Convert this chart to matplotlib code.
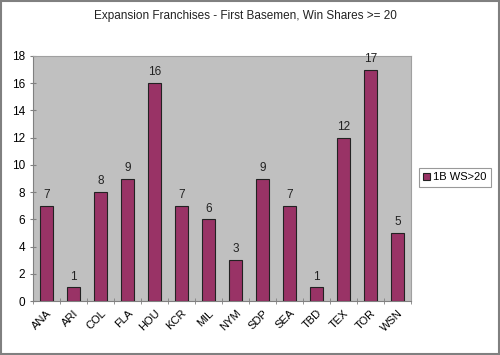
import matplotlib
matplotlib.use("Agg")
import matplotlib.pyplot as plt
from matplotlib.patches import Rectangle

teams = ["ANA", "ARI", "COL", "FLA", "HOU", "KCR", "MIL", "NYM", "SDP", "SEA", "TBD", "TEX", "TOR", "WSN"]
values = [7, 1, 8, 9, 16, 7, 6, 3, 9, 7, 1, 12, 17, 5]
series_name = "1B WS>20"
title = "Expansion Franchises - First Basemen, Win Shares >= 20"

W, H = 500, 355
fig = plt.figure(figsize=(W/100, H/100), dpi=100)
fig.patch.set_facecolor("white")
fig.patches.append(Rectangle((0.002, 0.003), 0.996, 0.994, transform=fig.transFigure,
                             fill=False, edgecolor="#808080", linewidth=1.5))

l, r, t, b = 33, 411, 56, 301
ax = fig.add_axes([l/W, 1 - b/H, (r-l)/W, (b-t)/H])
ax.set_facecolor("#C0C0C0")
x = range(len(teams))
bars = ax.bar(x, values, width=0.45, color="#993366", edgecolor="#222222", linewidth=0.8,
              label=series_name, zorder=3)
for xi, v in zip(x, values):
    ax.text(xi, v + 0.35, str(v), ha="center", va="bottom", fontsize=8.5, color="#222222",
            family="Liberation Sans")
ax.set_xlim(-0.5, len(teams) - 0.5)
ax.set_ylim(0, 18)
ax.set_yticks(range(0, 19, 2))
ax.set_xticks([i - 0.5 for i in range(len(teams) + 1)], minor=True)
ax.set_xticks(list(x))
ax.set_xticklabels(teams, rotation=45, ha="right", rotation_mode="anchor", fontsize=8,
                   family="Liberation Sans")
ax.tick_params(axis="x", which="major", length=0, pad=5)
ax.tick_params(axis="x", which="minor", length=4, color="#808080", direction="inout")
ax.tick_params(axis="y", length=4, color="#808080", direction="inout", labelsize=8.5)
for lab in ax.get_yticklabels():
    lab.set_family("Liberation Sans")
for s in ["top", "right"]:
    ax.spines[s].set_color("#A0A0A0")
for s in ["left", "bottom"]:
    ax.spines[s].set_color("#808080")

fig.text(245/W, 1 - 16/H, title, ha="center", va="center", fontsize=8.5, family="Liberation Sans",
         color="#222222")

leg = fig.legend(handles=[bars], labels=[series_name], loc="center",
                 bbox_to_anchor=(455/W, 1 - 177.5/H), fontsize=8, frameon=True, fancybox=False,
                 handlelength=0.6, handleheight=0.6, handletextpad=0.3, borderpad=0.4,
                 prop={"family": "Liberation Sans", "size": 8})
leg.get_frame().set_edgecolor("#808080")
leg.get_frame().set_linewidth(0.8)

fig.savefig("out.png", dpi=100)
